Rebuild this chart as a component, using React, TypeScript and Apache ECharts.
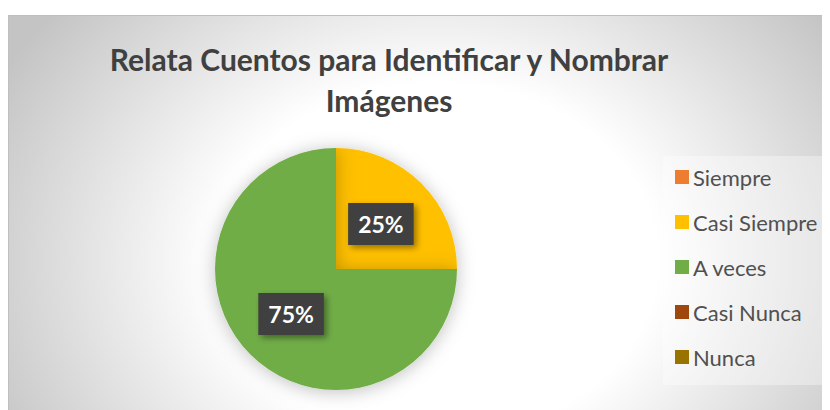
import React, { useEffect, useRef } from "react";
import * as echarts from "echarts";

const titleText = "Relata Cuentos para Identificar y Nombrar\nImágenes";
const categories = ["Siempre", "Casi Siempre", "A veces", "Casi Nunca", "Nunca"];
const values = [0, 25, 75, 0, 0];
const colors = ["#ED7D31", "#FFC000", "#70AD47", "#9E480E", "#997300"];

export default function App() {
  const ref = useRef<HTMLDivElement>(null);
  useEffect(() => {
    if (!ref.current) return;
    const chart = echarts.init(ref.current, null, { renderer: "svg" });
    chart.setOption({
      animation: false,
      backgroundColor: "transparent",
      title: {
        text: titleText,
        left: 375,
        top: 17,
        textAlign: "center",
        textStyle: {
          fontFamily: "Lato",
          fontWeight: "bold",
          fontSize: 30,
          lineHeight: 41,
          color: "#404040",
          align: "center",
        },
      },
      legend: {
        orient: "vertical",
        left: 654,
        top: 140,
        padding: [10, 40, 17, 12],
        backgroundColor: "rgba(255,255,255,0.35)",
        itemWidth: 14,
        itemHeight: 14,
        itemGap: 23,
        icon: "rect",
        data: categories,
        textStyle: {
          fontFamily: "Lato",
          fontSize: 22,
          lineHeight: 22,
          color: "#505050",
          padding: [0, 0, 0, -1],
        },
      },
      series: [
        {
          type: "pie",
          center: [327, 253],
          radius: 121,
          startAngle: 90,
          clockwise: true,
          data: categories.map((c, i) => ({
            name: c,
            value: values[i],
            itemStyle: { color: colors[i] },
            label: { show: values[i] > 0 },
          })),
          itemStyle: {
            shadowBlur: 18,
            shadowColor: "rgba(0,0,0,0.25)",
            shadowOffsetY: 2,
          },
          label: {
            position: "inside",
            formatter: (p: any) => `${Math.round(p.percent)}%`,
            fontFamily: "Lato",
            fontWeight: "bold",
            fontSize: 23,
            lineHeight: 24,
            color: "#ffffff",
            backgroundColor: "#404040",
            padding: [9, 10, 9, 10],
            shadowBlur: 6,
            shadowOffsetX: 3,
            shadowOffsetY: 3,
            shadowColor: "rgba(0,0,0,0.4)",
          },
          labelLine: { show: false },
          emphasis: { disabled: true },
        },
      ],
    });
    return () => chart.dispose();
  }, []);
  return (
    <div
      ref={ref}
      style={{
        width: 822,
        height: 395,
        marginTop: 7,
        boxSizing: "border-box",
        borderTop: "1px solid #bfbfbf",
        borderLeft: "1px solid #bfbfbf",
        background:
          "radial-gradient(ellipse 60% 100% at 52% 62%, #ffffff 0%, #ffffff 45%, #c4c4c4 100%)",
      }}
    />
  );
}
